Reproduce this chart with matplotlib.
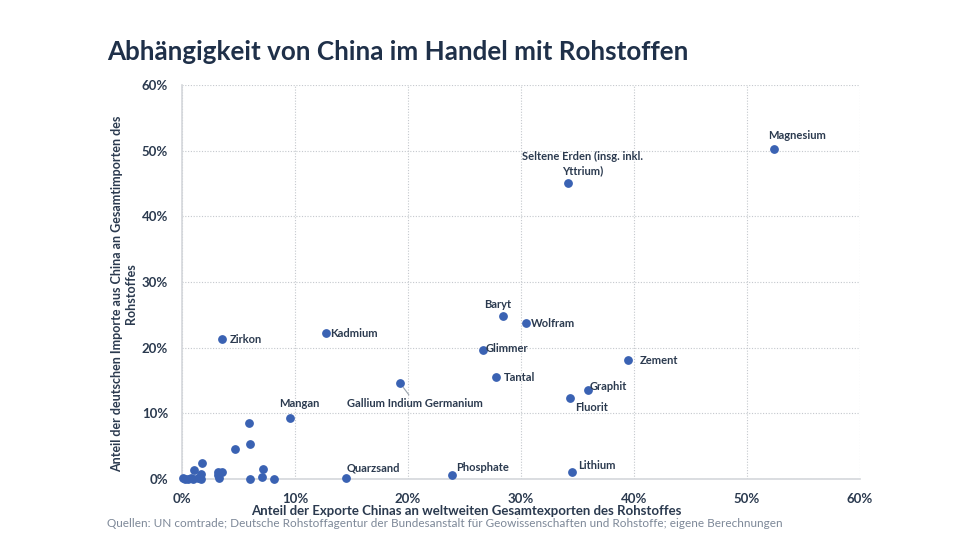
import matplotlib.pyplot as plt
from matplotlib.ticker import FuncFormatter

plt.rcParams['font.family'] = ['Lato', 'DejaVu Sans']

# ── Data (percent) ───────────────────────────────────────────────────────
# labelled commodities
names = ["Magnesium", "Seltene Erden (insg. inkl.\nYttrium)", "Baryt", "Wolfram",
         "Glimmer", "Zement", "Tantal", "Graphit", "Fluorit",
         "Gallium Indium Germanium", "Kadmium", "Zirkon", "Mangan",
         "Quarzsand", "Phosphate", "Lithium"]
export_share = [52.4, 34.2, 28.4, 30.4, 26.6, 39.5, 27.8, 35.9, 34.3,
                19.3, 12.7, 3.5, 9.6, 14.5, 23.9, 34.5]
import_share = [50.2, 45.1, 24.8, 23.7, 19.6, 18.1, 15.5, 13.5, 12.3,
                14.6, 22.2, 21.3, 9.3, 0.2, 0.6, 1.1]

# unlabelled commodities near the origin
other_export = [5.9, 6.0, 4.7, 1.8, 1.1, 1.7, 3.2, 3.5, 3.3, 7.2, 7.1, 6.0, 8.1,
                0.1, 0.3, 0.5, 0.8, 1.0, 1.4, 1.7, 3.2]
other_import = [8.6, 5.4, 4.5, 2.5, 1.4, 0.8, 1.1, 1.1, 0.2, 1.6, 0.35, 0.05, 0.05,
                0.1, 0.0, 0.05, 0.1, 0.05, 0.2, 0.0, 0.6]

# label offsets in pixels (dx, dy) and alignment
label_pos = [(23, 14, "center"), (14, 19, "center"), (-5, 12, "center"), (5, 0, "left"),
             (3, 2, "left"), (11, 0, "left"), (8, 0, "left"), (2, 4, "left"),
             (6, -9, "left"), (15, -20, "center"), (5, 0, "left"), (8, 0, "left"),
             (9, 14, "center"), (1, 10, "left"), (4, 8, "left"), (6, 6, "left")]

DOT = "#3a62b3"
NAVY = "#1f3049"
TEXT = "#2b3a4f"
GREY = "#7d8898"

fig = plt.figure(figsize=(9.8, 5.6), dpi=100)
ax = fig.add_axes([0.1857, 0.1446, 0.6919, 0.7036])

ax.scatter(other_export, other_import, s=28, color=DOT, zorder=3, clip_on=False)
ax.scatter(export_share, import_share, s=28, color=DOT, zorder=3, clip_on=False)

for name, x, y, (dx, dy, ha) in zip(names, export_share, import_share, label_pos):
    arrow = None
    if name.startswith("Gallium"):
        arrow = dict(arrowstyle="-", color="#9aa3ad", lw=0.8, shrinkA=0, shrinkB=4)
    ax.annotate(name, (x, y), xytext=(dx, dy), textcoords="offset pixels",
                ha=ha, va="center", fontsize=8, fontweight="bold", color=TEXT,
                linespacing=1.35, arrowprops=arrow, zorder=4)

ax.set_xlim(0, 60)
ax.set_ylim(0, 60)
ax.set_xticks(range(0, 61, 10))
ax.set_yticks(range(0, 61, 10))
pct = FuncFormatter(lambda v, _: f"{v:.0f}%")
ax.xaxis.set_major_formatter(pct)
ax.yaxis.set_major_formatter(pct)
ax.tick_params(length=0, labelsize=9.5, labelcolor=TEXT, pad=10)
for lab in ax.get_xticklabels() + ax.get_yticklabels():
    lab.set_fontweight("bold")

ax.grid(True, color="#c4c8cd", linestyle=(0, (1, 1.5)), linewidth=0.8)
ax.set_axisbelow(True)
for side in ("top", "right"):
    ax.spines[side].set_visible(False)
for side in ("left", "bottom"):
    ax.spines[side].set_color("#d4d7db")
    ax.spines[side].set_linewidth(1.2)

ax.set_xlabel("Anteil der Exporte Chinas an weltweiten Gesamtexporten des Rohstoffes",
              fontsize=9.5, fontweight="bold", color=TEXT, labelpad=-1)
ax.xaxis.set_label_coords(0.419, -0.065)
ax.set_ylabel("Anteil der deutschen Importe aus China an Gesamtimporten des\nRohstoffes",
              fontsize=9, fontweight="bold", color=TEXT, va="center")
ax.yaxis.set_label_coords(-0.085, 0.47)

fig.text(0.109, 0.907, "Abhängigkeit von China im Handel mit Rohstoffen",
         fontsize=18.7, fontweight="bold", color=NAVY, va="center")
fig.text(0.109, 0.066, "Quellen: UN comtrade; Deutsche Rohstoffagentur der Bundesanstalt "
         "für Geowissenschaften und Rohstoffe; eigene Berechnungen",
         fontsize=8.5, color=GREY, va="center")

fig.savefig("out.png", dpi=100)
